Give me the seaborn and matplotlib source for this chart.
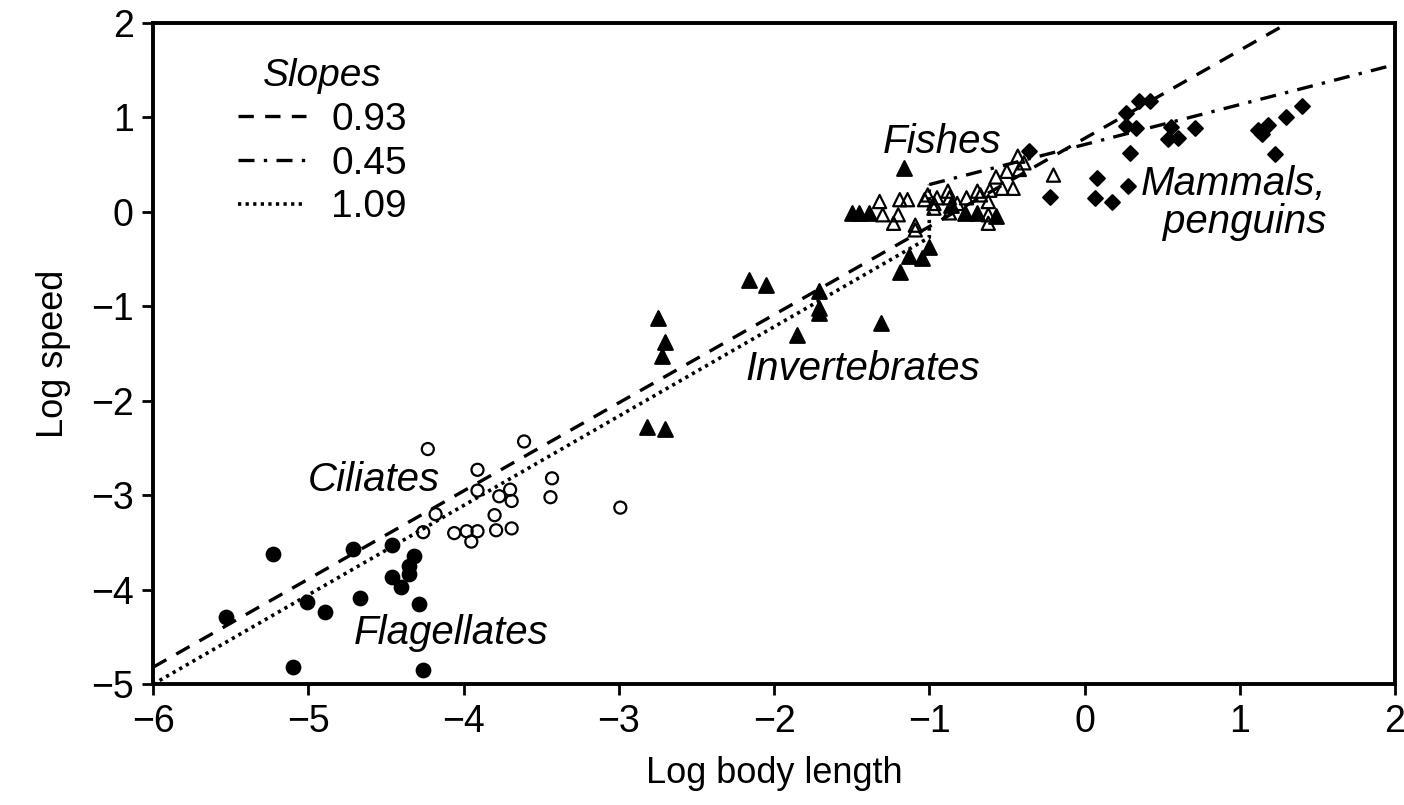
import matplotlib
matplotlib.use("Agg")
import matplotlib.pyplot as plt
import pandas as pd
import seaborn as sns

sns.set_theme(style="ticks")
plt.rcParams["font.family"] = ["Liberation Sans", "DejaVu Sans"]
plt.rcParams["text.color"] = "black"
plt.rcParams["axes.labelcolor"] = "black"

# ---- data (log body length, log speed) ----
flag_x = [-5.23, -5.53, -5.10, -5.01, -4.89, -4.71, -4.67, -4.46, -4.46, -4.40,
          -4.32, -4.35, -4.35, -4.29, -4.26]
flag_y = [-3.62, -4.29, -4.82, -4.13, -4.24, -3.57, -4.09, -3.53, -3.86, -3.97,
          -3.64, -3.75, -3.83, -4.15, -4.85]

cil_x = [-4.23, -3.61, -3.91, -3.91, -3.70, -3.77, -3.69, -3.43, -3.44, -4.18,
         -4.26, -3.80, -4.06, -3.98, -3.91, -3.95, -3.79, -3.69, -2.99]
cil_y = [-2.51, -2.43, -2.73, -2.95, -2.94, -3.01, -3.06, -2.82, -3.02, -3.20,
         -3.39, -3.21, -3.40, -3.38, -3.38, -3.49, -3.37, -3.35, -3.13]

inv_x = [-2.75, -2.70, -2.72, -2.82, -2.70, -2.16, -2.05, -1.85, -1.71, -1.71,
         -1.71, -1.31, -1.19, -1.13, -1.05, -1.00, -1.16, -1.50, -1.45, -1.39,
         -0.77, -0.69, -0.57, -0.86]
inv_y = [-1.12, -1.38, -1.53, -2.28, -2.30, -0.72, -0.77, -1.30, -0.84, -1.02,
         -1.07, -1.18, -0.64, -0.47, -0.49, -0.37, 0.46, -0.01, -0.01, -0.01,
         -0.01, -0.01, -0.04, 0.07]

fish_x = [-1.32, -1.30, -1.23, -1.20, -1.19, -1.14, -1.09, -1.09, -1.03, -1.01,
          -0.97, -0.97, -0.95, -0.88, -0.87, -0.87, -0.82, -0.76, -0.69, -0.67,
          -0.62, -0.62, -0.62, -0.61, -0.57, -0.53, -0.50, -0.46, -0.43, -0.42,
          -0.39, -0.20]
fish_y = [0.11, -0.03, -0.12, -0.03, 0.13, 0.13, -0.19, -0.14, 0.13, 0.18,
          0.09, 0.04, 0.15, 0.22, 0.15, -0.01, 0.09, 0.15, 0.22, 0.18,
          0.11, -0.03, -0.12, 0.23, 0.37, 0.25, 0.43, 0.25, 0.59, 0.45,
          0.52, 0.39]

mam_x = [0.35, 0.42, 0.27, 0.27, 0.33, 0.29, 0.56, 0.54, 0.60, 0.71,
         1.12, 1.14, 1.18, 1.30, 1.40, 1.23, 0.08, 0.28, 0.07, 0.18,
         -0.36, -0.22]
mam_y = [1.17, 1.17, 1.05, 0.91, 0.89, 0.62, 0.90, 0.77, 0.78, 0.89,
         0.87, 0.82, 0.92, 1.00, 1.12, 0.61, 0.36, 0.27, 0.15, 0.10,
         0.65, 0.16]

# fitted lines (end points)
slope_labels = ["0.93", "0.45", "1.09"]
dashed_x, dashed_y = [-6.0, 1.31], [-4.82, 2.0]
dashdot_x, dashdot_y = [-1.0, 2.0], [0.29, 1.56]
dotted_x, dotted_y = [-6.0, -1.0, -1.0], [-5.0, -0.27, 0.29]

fig = plt.figure(figsize=(14.04, 8.05), dpi=100)
ax = fig.add_axes([0.109, 0.150, 0.8846, 0.8214])

groups = [
    (flag_x, flag_y, "o", "black", "black", 95),
    (cil_x, cil_y, "o", "none", "black", 75),
    (inv_x, inv_y, "^", "black", "black", 110),
    (fish_x, fish_y, "^", "none", "black", 90),
    (mam_x, mam_y, "D", "black", "black", 55),
]
for gx, gy, mk, fc, ec, sz in groups:
    df = pd.DataFrame({"x": gx, "y": gy})
    sns.scatterplot(data=df, x="x", y="y", marker=mk, s=sz, facecolor=fc,
                    edgecolor=ec, linewidth=1.6, ax=ax, zorder=3)

l1, = ax.plot(dashed_x, dashed_y, color="black", lw=2.4,
              linestyle=(0, (4.6, 3.4)), zorder=2)
l2, = ax.plot(dashdot_x, dashdot_y, color="black", lw=2.4,
              linestyle=(0, (4.8, 2.8, 1.0, 2.8)), zorder=2)
l3, = ax.plot(dotted_x, dotted_y, color="black", lw=2.6,
              linestyle=(0, (0.9, 1.2)), zorder=2)

leg = ax.legend([l1, l2, l3], slope_labels, title="Slopes", frameon=False,
                loc="upper left", bbox_to_anchor=(0.04, 1.0),
                fontsize=28, title_fontsize=28, handlelength=1.75,
                handletextpad=0.65, labelspacing=0.2, alignment="center")
leg.get_title().set_fontstyle("italic")
for t in leg.get_texts():
    t.set_color("black")

lab = dict(fontsize=29, style="italic", color="black")
ax.text(-0.92, 0.74, "Fishes", ha="center", va="center", **lab)
ax.text(1.56, 0.09, "Mammals,\npenguins", ha="right", va="center",
        linespacing=1.0, **lab)
ax.text(-1.43, -1.66, "Invertebrates", ha="center", va="center", **lab)
ax.text(-4.58, -2.84, "Ciliates", ha="center", va="center", **lab)
ax.text(-4.08, -4.46, "Flagellates", ha="center", va="center", **lab)

ax.set_xlim(-6, 2)
ax.set_ylim(-5, 2)
ax.set_xticks(range(-6, 3))
ax.set_yticks(range(-5, 3))
ax.set_xlabel("Log body length", fontsize=26, labelpad=12)
ax.set_ylabel("Log speed", fontsize=26, labelpad=14)
ax.tick_params(axis="both", labelsize=27, width=2, length=8, direction="out",
               color="black", labelcolor="black", pad=6)
for sp in ax.spines.values():
    sp.set_linewidth(2.8)
    sp.set_color("black")

fig.savefig("out.png", dpi=100, facecolor="white")
